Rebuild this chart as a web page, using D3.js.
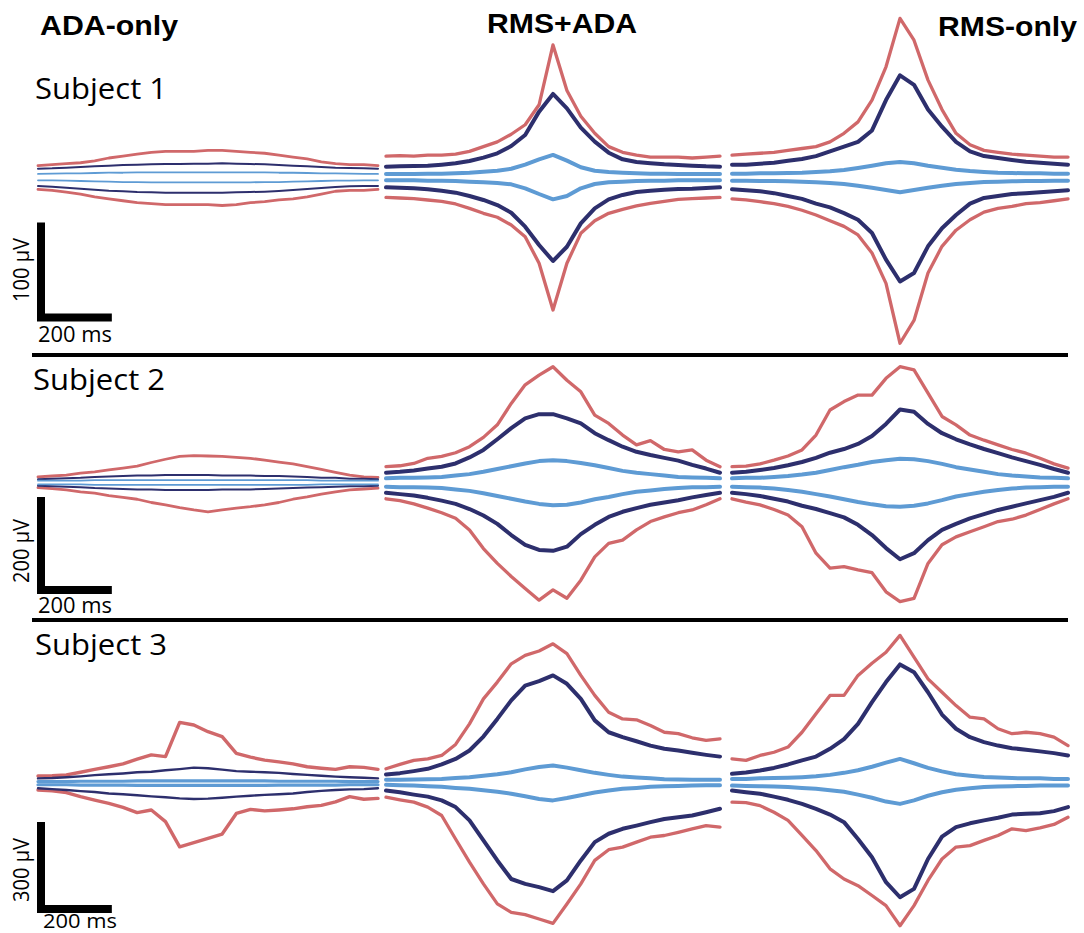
<!DOCTYPE html>
<html>
<head>
<meta charset="utf-8">
<script src="https://cdn.jsdelivr.net/npm/d3@7"></script>
<style>
  html, body { margin: 0; padding: 0; background: #ffffff; }
  svg { display: block; }
</style>
</head>
<body>
<svg id="fig" width="1084" height="933"></svg>
<script>
// ---- shared axes -------------------------------------------------------
const timesMs = [-480, -440, -400, -360, -320, -280, -240, -200, -160, -120, -80, -40, 0,
                 40, 80, 120, 160, 200, 240, 280, 320, 360, 400, 440, 480];
const conditions = ["ADA-only", "RMS+ADA", "RMS-only"];
const subjects = ["Subject 1", "Subject 2", "Subject 3"];
const scaleBarUv = [100, 200, 300];
const scaleBarMs = 200;

// ---- Subject 1 envelopes (µV) ----------------------------------------
const s1AdaRedUp  = [12, 13, 14, 15, 17, 20, 22, 24, 26, 27, 27, 27, 28, 28, 27, 26, 25, 23, 21, 19, 16, 14, 13, 13, 12];
const s1AdaNavyUp = [8.8, 9.1, 9.8, 10.5, 11.2, 11.9, 12.6, 13, 13.3, 13.7, 13.7, 14, 14, 14.4, 14, 13.7, 13.3, 12.6, 11.9, 11.2, 10.5, 9.8, 9.5, 9.1, 8.8];
const s1AdaBlueUp = [3.2, 3.5, 3.9, 3.9, 4.2, 4.5, 4.5, 4.9, 4.9, 4.9, 4.9, 4.9, 4.9, 4.9, 4.9, 4.9, 4.9, 4.5, 4.5, 4.2, 3.9, 3.9, 3.5, 3.2, 3.2];
const s1AdaBlueLo = [-3.5, -3.5, -3.9, -4.2, -4.5, -4.9, -5.3, -5.3, -5.6, -5.6, -5.6, -5.6, -5.6, -5.6, -5.6, -5.6, -5.3, -5.3, -4.9, -4.5, -4.2, -3.9, -3.9, -3.5, -3.5];
const s1AdaNavyLo = [-9.5, -10.2, -11.2, -12.3, -13.3, -14.4, -15, -15.8, -16.1, -16.5, -16.5, -16.5, -16.5, -16.5, -16.1, -15.8, -15.4, -14.7, -13.7, -12.6, -11.6, -10.5, -9.8, -9.5, -9.5];
const s1AdaRedLo  = [-13, -14, -16, -18, -21, -23, -25, -27, -28, -29, -29, -29, -29, -30, -29, -27, -26, -24, -23, -21, -18, -15, -14, -14, -13];

const s1BothRedUp  = [22, 22.5, 22, 23, 23, 24, 27, 32, 37, 45, 55, 76, 139, 91, 64, 46, 32, 26, 23, 21, 21, 21, 20, 21, 22];
const s1BothNavyUp = [10.9, 11.2, 11.6, 11.9, 13, 14.4, 16.8, 20.4, 24.9, 32.6, 44.2, 68.8, 87.4, 72.3, 51.9, 37.2, 25.6, 18.6, 15.8, 14.4, 13.3, 12.6, 11.9, 11.2, 10.9];
const s1BothBlueUp = [3.2, 3.2, 3.2, 3.5, 3.5, 3.9, 4.5, 5.6, 6.6, 8.7, 13, 18.6, 23.2, 17.2, 10.2, 6.6, 5.3, 4.5, 3.9, 3.5, 3.5, 3.2, 3.2, 3.2, 3.2];
const s1BothBlueLo = [-3.5, -3.5, -3.5, -3.9, -3.9, -4.2, -4.9, -5.6, -6.3, -7.7, -11.9, -17.9, -23.5, -20, -11.9, -7.4, -5.6, -4.9, -4.2, -3.9, -3.9, -3.5, -3.5, -3.5, -3.5];
const s1BothNavyLo = [-10.9, -11.2, -11.9, -12.9, -14.4, -16.5, -20, -24.2, -29.5, -37.6, -52.3, -71.6, -88.4, -73.4, -48.8, -33, -23.5, -18.9, -15.8, -14.4, -13.3, -12.6, -12.3, -11.6, -10.9];
const s1BothRedLo  = [-21.4, -22.1, -22.8, -24.2, -25.6, -28.4, -33, -38.2, -42.4, -50.5, -62.8, -90.8, -140, -90.8, -59.3, -46, -38.2, -34, -30.5, -27.7, -25.6, -23.5, -22.8, -22.1, -21.4];

const s1RmsRedUp  = [23, 24, 25, 26, 28, 30, 32, 37, 46, 58, 81, 116, 167, 144, 102, 71, 46, 34, 28, 26, 24, 23, 22, 21, 21];
const s1RmsNavyUp = [13, 13, 14, 15, 17, 19, 22, 27, 32, 37, 49, 81, 107, 97, 71, 53, 37, 27, 22, 20, 18, 16, 15, 14, 13];
const s1RmsBlueUp = [3.5, 3.5, 3.9, 3.9, 4.2, 4.5, 5.3, 6, 7.4, 9.5, 11.9, 14.4, 15.8, 14.4, 11.9, 9.8, 7.7, 6.3, 5.3, 4.5, 4.2, 3.9, 3.9, 3.5, 3.5];
const s1RmsBlueLo = [-3.9, -3.9, -4.2, -4.2, -4.5, -4.9, -5.6, -6.3, -7.4, -9.2, -11.3, -13.7, -16.1, -13.7, -11.3, -9.2, -7.4, -6.3, -5.3, -4.9, -4.5, -4.2, -4.2, -3.9, -3.9];
const s1RmsNavyLo = [-13, -14, -15, -17, -20, -23, -28, -32, -38, -45, -59, -87, -110, -101, -73, -54, -40, -28, -22, -20, -18, -17, -16, -15, -14];
const s1RmsRedLo  = [-23, -24, -26, -28, -31, -35, -40, -46, -52, -61, -80, -112, -175, -151, -101, -73, -56, -45, -37, -33, -31, -28, -27, -25, -23];

// ---- Subject 2 envelopes (µV) ----------------------------------------
const s2AdaRedUp  = [12, 14, 16, 20, 23, 27, 31, 35, 43, 50, 56, 58, 57, 56, 54, 52, 48, 44, 40, 34, 28, 22, 16, 12, 11];
const s2AdaNavyUp = [7, 8, 9, 10, 12, 13, 14, 15, 15, 16, 16, 16, 16, 15, 15, 15, 14, 14, 13, 12, 10, 10, 8, 8, 7];
const s2AdaBlueUp = [4, 4, 4, 4, 5, 5, 5, 5, 5, 5, 5, 5, 5, 5, 5, 5, 5, 5, 5, 5, 4, 4, 4, 4, 4];
const s2AdaBlueLo = [-4, -4, -4, -4, -5, -5, -5, -5, -5, -5, -5, -5, -5, -5, -5, -5, -5, -5, -5, -5, -4, -4, -4, -4, -4];
const s2AdaNavyLo = [-7, -8, -9, -10, -12, -13, -14, -15, -15, -16, -16, -16, -16, -15, -15, -15, -14, -13, -12, -11, -10, -9, -8, -8, -7];
const s2AdaRedLo  = [-11, -13, -16, -20, -23, -28, -32, -36, -43, -48, -54, -59, -63, -59, -55, -52, -48, -43, -36, -31, -25, -20, -16, -14, -12];

const s2BothRedUp  = [34, 36, 41, 52, 56, 64, 77, 97, 124, 170, 210, 231, 249, 220, 195, 145, 127, 102, 81, 90, 71, 66, 70, 48, 34];
const s2BothNavyUp = [21, 23, 26, 30, 34, 41, 54, 70, 93, 117, 138, 147, 147, 138, 127, 106, 91, 77, 66, 59, 53, 47, 38, 30, 21];
const s2BothBlueUp = [9, 10, 10, 11, 12, 15, 18, 23, 29, 35, 41, 46, 48, 46, 42, 37, 31, 25, 21, 18, 15, 12, 11, 10, 9];
const s2BothBlueLo = [-9, -10, -10, -11, -12, -15, -18, -23, -29, -35, -41, -46, -49, -48, -43, -36, -31, -25, -20, -17, -14, -12, -10, -10, -9];
const s2BothNavyLo = [-22, -25, -28, -33, -39, -46, -57, -71, -89, -113, -134, -145, -147, -138, -111, -91, -74, -63, -55, -48, -43, -38, -32, -27, -22];
const s2BothRedLo  = [-35, -39, -46, -55, -65, -77, -102, -142, -174, -202, -228, -253, -231, -249, -210, -160, -131, -124, -102, -84, -74, -65, -59, -48, -35];

const s2RmsRedUp  = [34, 35, 40, 48, 57, 70, 102, 156, 174, 188, 188, 224, 249, 242, 192, 142, 124, 102, 91, 81, 71, 63, 52, 40, 31];
const s2RmsNavyUp = [21, 23, 27, 31, 37, 44, 53, 64, 72, 83, 100, 126, 157, 152, 126, 106, 93, 82, 72, 63, 54, 46, 38, 29, 21];
const s2RmsBlueUp = [9, 10, 10, 12, 14, 17, 21, 27, 33, 38, 44, 48, 51, 50, 46, 40, 33, 28, 23, 18, 15, 13, 11, 10, 9];
const s2RmsBlueLo = [-9, -10, -11, -13, -16, -20, -25, -30, -36, -42, -47, -51, -52, -50, -45, -38, -30, -25, -20, -16, -13, -11, -10, -9, -9];
const s2RmsNavyLo = [-22, -25, -29, -35, -41, -50, -57, -66, -75, -91, -113, -141, -165, -152, -124, -102, -89, -77, -68, -59, -52, -45, -38, -31, -22];
const s2RmsRedLo  = [-35, -42, -48, -58, -70, -95, -152, -184, -181, -188, -194, -235, -256, -249, -174, -134, -117, -106, -95, -84, -79, -70, -58, -46, -35];

// ---- Subject 3 envelopes (µV) ----------------------------------------
const s3AdaRedUp  = [24, 25, 28, 37, 47, 56, 66, 82, 97, 91, 209, 200, 177, 160, 102, 89, 79, 73, 66, 56, 51, 47, 56, 54, 47];
const s3AdaNavyUp = [16, 17, 20, 23, 27, 30, 33, 37, 39, 44, 48, 53, 51, 46, 41, 39, 37, 35, 31, 28, 25, 22, 20, 18, 16];
const s3AdaBlueUp = [5, 5, 5, 6, 6, 6, 6, 7, 7, 7, 7, 7, 7, 7, 7, 7, 7, 6, 6, 6, 6, 6, 5, 5, 5];
const s3AdaBlueLo = [-6, -6, -6, -7, -7, -7, -7, -8, -8, -8, -8, -8, -8, -8, -8, -8, -8, -7, -7, -7, -7, -7, -6, -6, -6];
const s3AdaNavyLo = [-18, -21, -24, -28, -31, -36, -39, -42, -46, -49, -53, -55, -54, -51, -47, -44, -41, -39, -36, -31, -27, -24, -22, -21, -18];
const s3AdaRedLo  = [-24, -27, -33, -47, -59, -70, -84, -102, -93, -133, -220, -206, -191, -176, -105, -91, -96, -93, -89, -82, -77, -65, -47, -56, -53];

const s3BothRedUp  = [49, 64, 78, 83, 95, 133, 204, 290, 348, 411, 440, 455, 480, 446, 371, 302, 244, 221, 218, 198, 175, 170, 156, 147, 152];
const s3BothNavyUp = [29, 34, 41, 49, 64, 83, 112, 160, 221, 285, 336, 351, 371, 342, 290, 216, 175, 158, 144, 129, 118, 112, 104, 97, 91];
const s3BothBlueUp = [11, 11, 12, 13, 14, 17, 20, 25, 30, 37, 47, 55, 60, 53, 44, 35, 28, 22, 19, 16, 13, 12, 11, 11, 11];
const s3BothBlueLo = [-6, -8, -9, -11, -13, -17, -20, -25, -30, -37, -46, -55, -60, -52, -42, -33, -26, -20, -17, -13, -11, -10, -9, -8, -8];
const s3BothNavyLo = [-26, -32, -40, -47, -60, -83, -129, -198, -267, -331, -348, -359, -373, -336, -267, -204, -175, -158, -147, -135, -124, -118, -112, -101, -89];
const s3BothRedLo  = [-49, -58, -66, -83, -112, -193, -273, -348, -417, -446, -454, -469, -484, -417, -348, -267, -230, -221, -204, -187, -181, -170, -158, -147, -152];

const s3RmsRedUp  = [83, 78, 95, 106, 124, 175, 239, 302, 302, 371, 413, 451, 509, 434, 359, 313, 267, 227, 221, 187, 170, 175, 170, 158, 129];
const s3RmsNavyUp = [32, 36, 43, 52, 64, 78, 91, 118, 151, 204, 279, 348, 409, 382, 313, 236, 187, 158, 141, 129, 120, 115, 109, 103, 95];
const s3RmsBlueUp = [14, 14, 16, 17, 18, 20, 23, 28, 35, 44, 56, 70, 83, 68, 52, 40, 30, 25, 21, 19, 17, 16, 16, 14, 14];
const s3RmsBlueLo = [-9, -10, -11, -12, -14, -17, -20, -25, -30, -40, -51, -64, -72, -60, -44, -32, -23, -18, -14, -12, -11, -10, -9, -9, -9];
const s3RmsNavyLo = [-26, -32, -37, -47, -58, -72, -89, -109, -135, -193, -256, -342, -394, -365, -262, -185, -152, -139, -129, -120, -109, -106, -104, -97, -83];
const s3RmsRedLo  = [-66, -68, -78, -101, -129, -181, -233, -296, -331, -354, -388, -423, -492, -423, -336, -262, -221, -216, -198, -181, -158, -164, -155, -143, -118];

// ---- panel table: [subject][condition] -> traces ------------------------
const panels = [
  [
    { red: [s1AdaRedUp, s1AdaRedLo], navy: [s1AdaNavyUp, s1AdaNavyLo], blue: [s1AdaBlueUp, s1AdaBlueLo] },
    { red: [s1BothRedUp, s1BothRedLo], navy: [s1BothNavyUp, s1BothNavyLo], blue: [s1BothBlueUp, s1BothBlueLo] },
    { red: [s1RmsRedUp, s1RmsRedLo], navy: [s1RmsNavyUp, s1RmsNavyLo], blue: [s1RmsBlueUp, s1RmsBlueLo] }
  ],
  [
    { red: [s2AdaRedUp, s2AdaRedLo], navy: [s2AdaNavyUp, s2AdaNavyLo], blue: [s2AdaBlueUp, s2AdaBlueLo] },
    { red: [s2BothRedUp, s2BothRedLo], navy: [s2BothNavyUp, s2BothNavyLo], blue: [s2BothBlueUp, s2BothBlueLo] },
    { red: [s2RmsRedUp, s2RmsRedLo], navy: [s2RmsNavyUp, s2RmsNavyLo], blue: [s2RmsBlueUp, s2RmsBlueLo] }
  ],
  [
    { red: [s3AdaRedUp, s3AdaRedLo], navy: [s3AdaNavyUp, s3AdaNavyLo], blue: [s3AdaBlueUp, s3AdaBlueLo] },
    { red: [s3BothRedUp, s3BothRedLo], navy: [s3BothNavyUp, s3BothNavyLo], blue: [s3BothBlueUp, s3BothBlueLo] },
    { red: [s3RmsRedUp, s3RmsRedLo], navy: [s3RmsNavyUp, s3RmsNavyLo], blue: [s3RmsBlueUp, s3RmsBlueLo] }
  ]
];

// ---- layout ------------------------------------------------------------
const colExtent = [[38, 378], [386, 720], [732, 1068]];
const rowCenter = [177, 482.5, 783];
const rowPxPerUv = [0.95, 0.465, 0.29];
const colors = { red: "#d0686a", navy: "#2d2f6d", blue: "#5e9bd4" };
// stroke widths: narrow ADA-only traces, heavier RMS traces
const widthFor = (r, c) => {
  if (c === 0) {
    return r === 2 ? { red: 3.4, navy: 2.4, blue: 3.2 } : { red: 2.8, navy: 2, blue: 1.8 };
  }
  return { red: 3.3, navy: 4, blue: 4 };
};

const svg = d3.select("#fig");
const xScales = colExtent.map(ext =>
  d3.scaleLinear().domain([timesMs[0], timesMs[timesMs.length - 1]]).range(ext));
const yScales = rowCenter.map((y0, r) =>
  d3.scaleLinear().domain([-1000, 1000])
    .range([y0 + 1000 * rowPxPerUv[r], y0 - 1000 * rowPxPerUv[r]]));

// ---- traces ------------------------------------------------------------
panels.forEach((row, r) => {
  row.forEach((p, c) => {
    const x = xScales[c], y = yScales[r];
    const line = d3.line().x((d, i) => x(timesMs[i])).y(d => y(d)).curve(d3.curveLinear);
    const w = widthFor(r, c);
    const g = svg.append("g").attr("class", `panel r${r} c${c}`);
    ["red", "navy", "blue"].forEach(key => {
      p[key].forEach(series => {
        g.append("path")
          .datum(series)
          .attr("d", line)
          .attr("fill", "none")
          .attr("stroke", colors[key])
          .attr("stroke-width", w[key])
          .attr("stroke-linejoin", "round")
          .attr("stroke-linecap", "round");
      });
    });
  });
});

// ---- condition titles --------------------------------------------------
const titlePos = [{ x: 40, y: 35, w: 138 }, { x: 487, y: 33, w: 150 }, { x: 938, y: 36, w: 139 }];
conditions.forEach((t, i) => {
  svg.append("text")
    .attr("x", titlePos[i].x).attr("y", titlePos[i].y)
    .attr("textLength", titlePos[i].w).attr("lengthAdjust", "spacingAndGlyphs")
    .attr("font-family", "Liberation Sans, Arial, sans-serif")
    .attr("font-weight", "bold").attr("font-size", 28)
    .attr("fill", "#000").text(t);
});

// ---- subject labels ----------------------------------------------------
const subjPos = [{ x: 35, y: 99 }, { x: 33, y: 390 }, { x: 35, y: 655 }];
subjects.forEach((s, i) => {
  svg.append("text")
    .attr("x", subjPos[i].x).attr("y", subjPos[i].y)
    .attr("textLength", 132).attr("lengthAdjust", "spacingAndGlyphs")
    .attr("font-family", "Open Sans, sans-serif")
    .attr("font-size", 29).attr("fill", "#000").text(s);
});

// ---- row separators ----------------------------------------------------
[355, 620].forEach(yy => {
  svg.append("line")
    .attr("x1", 32).attr("x2", 1068).attr("y1", yy).attr("y2", yy)
    .attr("stroke", "#000").attr("stroke-width", 4.2);
});

// ---- scale bars --------------------------------------------------------
const barCorner = [{ x: 41, y: 317.5 }, { x: 41, y: 590 }, { x: 41, y: 909 }];
const msLabel = [{ x: 38, y: 342 }, { x: 38, y: 613 }, { x: 43, y: 928 }];
const uvLabelCenter = [270, 551, 870];
scaleBarUv.forEach((uv, r) => {
  const x = xScales[0], y = yScales[r];
  const hLen = x(timesMs[0] + scaleBarMs) - x(timesMs[0]);
  const vLen = y(0) - y(uv);
  const { x: cx, y: cy } = barCorner[r];
  svg.append("path")
    .attr("d", `M${cx},${cy - vLen}L${cx},${cy}L${cx + hLen},${cy}`)
    .attr("fill", "none").attr("stroke", "#000")
    .attr("stroke-width", 8).attr("stroke-linejoin", "miter").attr("stroke-linecap", "butt");

  svg.append("text")
    .attr("transform", `translate(29,${uvLabelCenter[r]}) rotate(-90)`)
    .attr("text-anchor", "middle")
    .attr("textLength", 64).attr("lengthAdjust", "spacingAndGlyphs")
    .attr("font-family", "Open Sans, sans-serif").attr("font-size", 21)
    .attr("fill", "#000").text(`${uv} µV`);

  svg.append("text")
    .attr("x", msLabel[r].x).attr("y", msLabel[r].y)
    .attr("textLength", 74).attr("lengthAdjust", "spacingAndGlyphs")
    .attr("font-family", "Open Sans, sans-serif").attr("font-size", r === 2 ? 20 : 21)
    .attr("fill", "#000").text(`${scaleBarMs} ms`);
});
</script>
</body>
</html>
